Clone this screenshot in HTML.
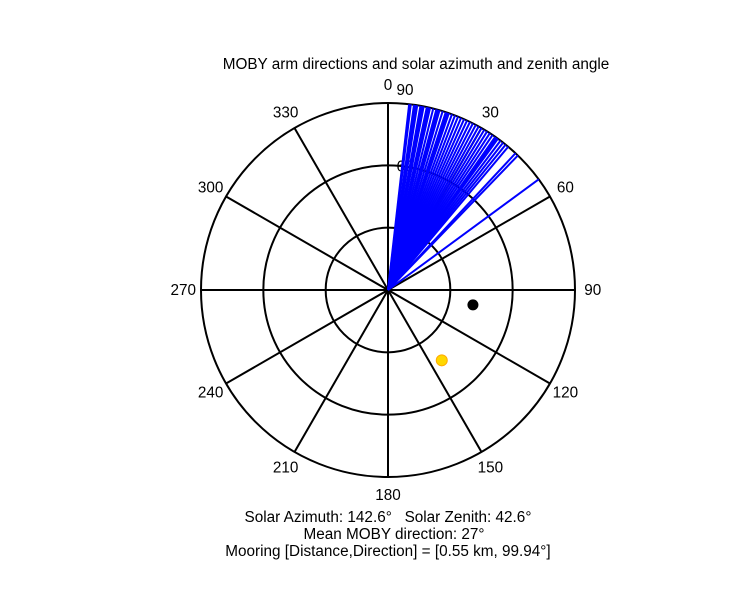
<!DOCTYPE html>
<html><head><meta charset="utf-8"><style>
body{margin:0;background:#fff;width:750px;height:600px;overflow:hidden}
text{font-family:"Liberation Sans",sans-serif;}
</style></head><body>
<svg id="chart" width="750" height="600" xmlns="http://www.w3.org/2000/svg">
<text x="416" y="69" font-size="15.3" text-anchor="middle">MOBY arm directions and solar azimuth and zenith angle</text>
<g id="grid"></g>
<g id="arms"></g>
<g id="marks"></g>
<text x="388" y="522" font-size="15.3" text-anchor="middle">Solar Azimuth: 142.6° &#160; Solar Zenith: 42.6°</text>
<text x="394" y="539" font-size="15.3" text-anchor="middle">Mean MOBY direction: 27°</text>
<text x="388" y="556" font-size="15.3" text-anchor="middle">Mooring [Distance,Direction] = [0.55 km, 99.94°]</text>
</svg>
<script>
const armAngles=[6.5,7,8,8.5,9,10,10.5,11,12,12.5,13,14,15,15.5,16,17,18,18.5,19,20,21,22,23,24,25,26,27,28,29,30,31,32,33,34,35,35.5,36,37,38,39,40,43,44,53.7];
const spokeAngles=[0,30,60,90,120,150,180,210,240,270,300,330];
const ringValues=[30,60,90];
const sunAz=142.6, sunZen=42.6;
const mooringDir=99.94, mooringR=41.5;
const cx=388, cy=290, R=187, maxZ=90;
const NS="http://www.w3.org/2000/svg";
function rad(z){return z/maxZ*R;}
function pt(az,z){const a=az*Math.PI/180;return [cx+rad(z)*Math.sin(a),cy-rad(z)*Math.cos(a)];}
function mk(tag,attrs,parent){const e=document.createElementNS(NS,tag);for(const k in attrs)e.setAttribute(k,attrs[k]);document.getElementById(parent).appendChild(e);return e;}
ringValues.forEach(v=>{
  const c=mk('circle',{cx:cx,cy:cy,r:rad(v),fill:'none',stroke:'#000','stroke-width':2},'grid');
  
  
});
spokeAngles.forEach(a=>{
  if(a<180){const p=pt(a,maxZ),q=pt(a+180,maxZ);
    const l=mk('line',{x1:p[0],y1:p[1],x2:q[0],y2:q[1],stroke:'#000','stroke-width':2},'grid');
    
    }
  const p=pt(a,maxZ*1.095);
  const t=mk('text',{x:p[0],y:p[1]+5,'font-size':15.3,'text-anchor':'middle'},'grid');
  t.textContent=a;
  
  
});
ringValues.forEach(v=>{
  const t=mk('text',{x:405,y:0,'font-size':15.3,'text-anchor':'middle'},'grid');
  t.setAttribute('y',cy-rad(v)-(v===90?8:-6));
  t.textContent=v;
  
  
});
armAngles.forEach((a,i)=>{
  const p=pt(a,maxZ);
  const l=mk('line',{x1:cx,y1:cy,x2:p[0],y2:p[1],stroke:'#0000ff','stroke-width':2},'arms');
  
  
});
const m=pt(mooringDir,mooringR);
const md=mk('circle',{cx:m[0],cy:m[1],r:5.5,fill:'#000'},'marks');


const s=pt(sunAz,sunZen);
const sd=mk('circle',{cx:s[0],cy:s[1],r:5.5,fill:'#ffd700',stroke:'#ffaa00','stroke-width':1},'marks');


</script>
</body></html>
